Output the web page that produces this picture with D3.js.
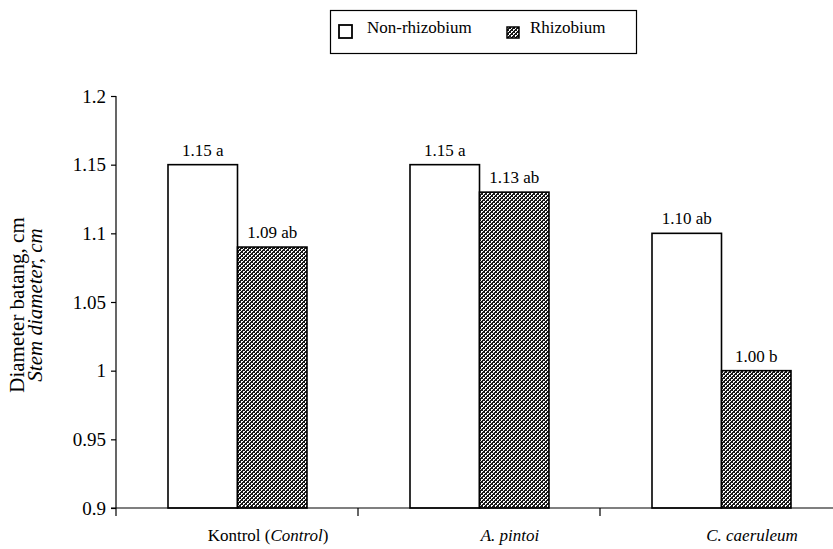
<!DOCTYPE html>
<html>
<head>
<meta charset="utf-8">
<script src="https://cdn.jsdelivr.net/npm/d3@7"></script>
<style>
  html, body { margin: 0; padding: 0; background: #fff; }
  svg { display: block; }
  text { font-family: "Liberation Serif", "Times New Roman", serif; fill: #000; }
</style>
</head>
<body>
<svg id="chart" width="833" height="549"></svg>
<script>
const categories = ["Kontrol", "A. pintoi", "C. caeruleum"];
const series = ["Non-rhizobium", "Rhizobium"];
const nonRhizobium = [1.15, 1.15, 1.10];
const rhizobium = [1.09, 1.13, 1.00];
const nonRhizobiumLabels = ["1.15 a", "1.15 a", "1.10 ab"];
const rhizobiumLabels = ["1.09 ab", "1.13 ab", "1.00 b"];
const yTicks = [0.9, 0.95, 1, 1.05, 1.1, 1.15, 1.2];

const data = categories.map((c, i) => ({
  cat: c,
  vals: [
    { s: series[0], v: nonRhizobium[i], label: nonRhizobiumLabels[i] },
    { s: series[1], v: rhizobium[i], label: rhizobiumLabels[i] }
  ]
}));

const svg = d3.select("#chart");

const defs = svg.append("defs");
const pat = defs.append("pattern")
  .attr("id", "hatch")
  .attr("patternUnits", "userSpaceOnUse")
  .attr("width", 4).attr("height", 4);
pat.append("rect").attr("width", 4).attr("height", 4).attr("fill", "#fff");
const px = [];
for (let i = 0; i < 4; i++) for (let j = 0; j < 4; j++) {
  const k = (i + j) % 4;
  if (k === 0 || k === 1 || (k === 2 && i % 2 === 0)) px.push([i, j]);
}
pat.selectAll("rect.p").data(px).join("rect").attr("class", "p")
  .attr("x", d => d[0]).attr("y", d => d[1]).attr("width", 1).attr("height", 1)
  .attr("fill", "#1a1a1a").attr("shape-rendering", "crispEdges");

const x0 = d3.scaleBand().domain(categories).range([116, 842]).paddingInner(0).paddingOuter(0);
const x1 = d3.scaleBand().domain(series).range([52, 191]).padding(0);
const y = d3.scaleLinear().domain([0.9, 1.2]).range([508, 96]);

// bars
const groups = svg.append("g").selectAll("g").data(data).join("g")
  .attr("transform", d => `translate(${x0(d.cat)},0)`);

groups.selectAll("rect").data(d => d.vals).join("rect")
  .attr("x", d => x1(d.s))
  .attr("y", d => y(d.v))
  .attr("width", x1.bandwidth())
  .attr("height", d => y(0.9) - y(d.v))
  .attr("fill", d => d.s === series[0] ? "#fff" : "url(#hatch)")
  .attr("stroke", "#000")
  .attr("stroke-width", 1.6);

groups.selectAll("text.val").data(d => d.vals).join("text")
  .attr("class", "val")
  .attr("x", d => x1(d.s) + x1.bandwidth() / 2)
  .attr("y", d => y(d.v) - 9)
  .attr("text-anchor", "middle")
  .style("font-size", "17px")
  .text(d => d.label);

// y axis
const yAxis = svg.append("g")
  .attr("transform", "translate(116,0)")
  .call(d3.axisLeft(y).tickValues(yTicks).tickSize(5).tickPadding(5)
    .tickFormat(d => d3.format("")(+d.toFixed(2))));
yAxis.select(".domain").attr("d", "M0,96V516").attr("stroke", "#000").attr("stroke-width", 1.2);
yAxis.selectAll(".tick line").attr("stroke", "#000").attr("stroke-width", 1.2);
yAxis.selectAll(".tick text").style("font-size", "19px")
  .style("font-family", '"Liberation Serif", "Times New Roman", serif').attr("fill", "#000");

// x axis
const xAxis = svg.append("g").attr("transform", "translate(0,508)");
xAxis.append("line").attr("x1", 111).attr("x2", 842).attr("y1", 0).attr("y2", 0)
  .attr("stroke", "#000").attr("stroke-width", 1.2);
const boundaries = categories.slice(1).map(c => x0(c)).concat([x0.range()[1]]);
xAxis.selectAll("line.tk").data(boundaries).join("line")
  .attr("class", "tk")
  .attr("x1", d => d).attr("x2", d => d).attr("y1", 0).attr("y2", 8)
  .attr("stroke", "#000").attr("stroke-width", 1.2);

const xLabels = xAxis.selectAll("text.xl").data(categories).join("text")
  .attr("class", "xl")
  .attr("x", d => x0(d) + x0.bandwidth() / 2 + 31)
  .attr("y", 33)
  .attr("text-anchor", "middle")
  .style("font-size", "17px");
xLabels.each(function(d, i) {
  const t = d3.select(this);
  if (i === 0) {
    t.append("tspan").text("Kontrol (");
    t.append("tspan").style("font-style", "italic").text("Control");
    t.append("tspan").text(")");
  } else {
    t.append("tspan").style("font-style", "italic").text(d);
  }
});

// y title
svg.append("text")
  .attr("transform", "translate(24,305) rotate(-90)")
  .attr("text-anchor", "middle")
  .style("font-size", "21px")
  .text("Diameter batang, cm");
svg.append("text")
  .attr("transform", "translate(42,305) rotate(-90)")
  .attr("text-anchor", "middle")
  .style("font-size", "21px")
  .style("font-style", "italic")
  .text("Stem diameter, cm");

// legend
const lg = svg.append("g");
lg.append("rect").attr("x", 330.5).attr("y", 10.5).attr("width", 306).attr("height", 43)
  .attr("fill", "#fff").attr("stroke", "#000").attr("stroke-width", 1.2);
lg.append("rect").attr("x", 339).attr("y", 25).attr("width", 13).attr("height", 13)
  .attr("fill", "#fff").attr("stroke", "#000").attr("stroke-width", 1.8);
lg.append("text").attr("x", 367).attr("y", 33).style("font-size", "17px").text(series[0]);
lg.append("rect").attr("x", 507).attr("y", 27).attr("width", 12).attr("height", 11)
  .attr("fill", "url(#hatch)").attr("stroke", "#000").attr("stroke-width", 1.5);
lg.append("text").attr("x", 530).attr("y", 33).style("font-size", "17px").text(series[1]);
</script>
</body>
</html>
